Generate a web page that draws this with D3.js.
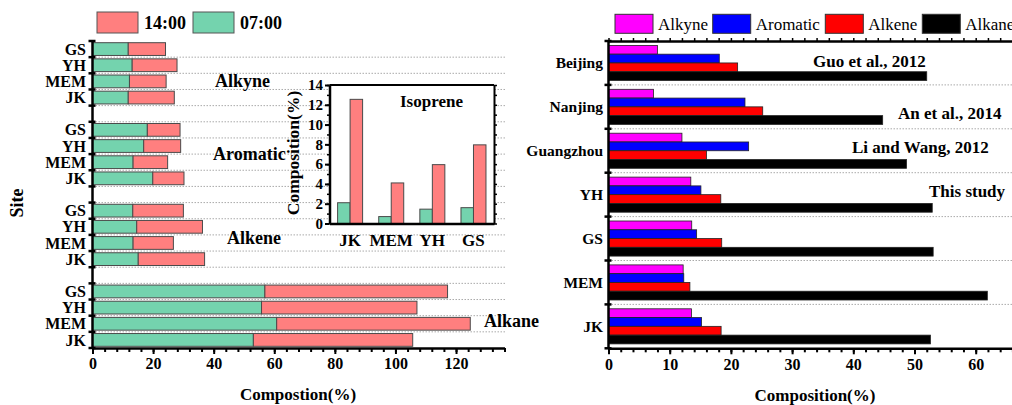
<!DOCTYPE html>
<html>
<head>
<meta charset="utf-8">
<script src="https://cdnjs.cloudflare.com/ajax/libs/d3/7.8.5/d3.min.js"></script>
<style>
  body { margin: 0; background: #fff; }
  svg { display: block; }
  svg text { font-family: 'Liberation Serif', 'DejaVu Serif', 'Times New Roman', Times, serif !important; fill: #000; }
  .axis path, .axis line { stroke: #000; }
  .axis text { font-weight: bold; }
</style>
</head>
<body>
<div class="chart-container"></div>
<script>
// site order as listed in the data (bottom to top on the chart)
let sites = ['JK', 'MEM', 'YH', 'GS']
let groups = ['Alkyne', 'Aromatic', 'Alkene', 'Alkane']

// 07:00 composition (%)
let alkyne07 = [11.8, 12.2, 13.1, 11.8]
let aromatic07 = [19.9, 13.4, 16.9, 18.1]
let alkene07 = [15.1, 13.4, 14.6, 13.3]
let alkane07 = [53.1, 60.8, 55.8, 56.9]

// 14:00 composition (%), stacked after 07:00
let alkyne14 = [15.2, 12.1, 14.8, 12.3]
let aromatic14 = [10.3, 11.4, 12.2, 10.8]
let alkene14 = [21.9, 13.3, 21.7, 16.7]
let alkane14 = [52.6, 63.9, 51.3, 60.3]

// inset: isoprene
let isoprene07 = [2.1, 0.7, 1.45, 1.6]
let isoprene14 = [12.55, 4.1, 5.95, 7.95]

// right panel: comparison with other cities
let cities = ['Beijing', 'Nanjing', 'Guangzhou', 'YH', 'GS', 'MEM', 'JK']
let classes = ['Alkyne', 'Aromatic', 'Alkene', 'Alkane']
let alkyneComp = [8.0, 7.35, 12.0, 13.45, 13.6, 12.2, 13.55]
let aromaticComp = [18.1, 22.3, 22.9, 15.1, 14.4, 12.3, 15.2]
let alkeneComp = [21.1, 25.2, 16.0, 18.35, 18.5, 13.3, 18.4]
let alkaneComp = [52.0, 44.8, 48.7, 52.9, 53.05, 61.9, 52.6]
let studyNotes = ['Guo et al., 2012', 'An et al., 2014', 'Li and Wang, 2012', 'This study']

let green = '#74d3ae'
let pink = '#ff7f7f'
let classColor = d3.scaleOrdinal()
  .domain(classes)
  .range(['#ff00ff', '#0000ff', '#ff0000', '#000000'])

let svg = d3.select('.chart-container')
  .append('svg')
  .attr('width', 1012)
  .attr('height', 405)

// ---------------- left panel ----------------
let am = [alkyne07, aromatic07, alkene07, alkane07]
let pm = [alkyne14, aromatic14, alkene14, alkane14]

let rows = []
let slots = []
groups.forEach((g, gi) => {
  if (gi > 0) slots.push('gap' + gi)
  sites.slice().reverse().forEach(s => {
    let i = sites.indexOf(s)
    slots.push(g + '-' + s)
    rows.push({ key: g + '-' + s, site: s, am: am[gi][i], pm: pm[gi][i] })
  })
})

let x = d3.scaleLinear().domain([0, 136]).range([92.5, 504.5])
let y = d3.scaleBand().domain(slots).range([41, 348]).padding(0)

let left = svg.append('g')

// dotted grid at slot boundaries
left.selectAll('.grid')
  .data(slots.slice(1))
  .enter()
  .append('line')
  .attr('x1', x(0)).attr('x2', 505)
  .attr('y1', d => y(d)).attr('y2', d => y(d))
  .attr('stroke', '#aaa')
  .attr('stroke-dasharray', '1.5,1.5')

let stack = d3.stack().keys(['am', 'pm'])
let layers = stack(rows)

left.selectAll('.layer')
  .data(layers)
  .enter()
  .append('g')
  .attr('fill', (d, i) => i === 0 ? green : pink)
  .selectAll('rect')
  .data(d => d)
  .enter()
  .append('rect')
  .attr('x', d => x(d[0]))
  .attr('width', d => x(d[1]) - x(d[0]))
  .attr('y', d => y(d.data.key) + 1.7)
  .attr('height', y.bandwidth() - 3.4)
  .attr('stroke', '#4a4a4a')
  .attr('stroke-width', 1)

// x axis
left.append('g')
  .attr('class', 'axis')
  .attr('transform', 'translate(0,348)')
  .call(d3.axisBottom(x).tickValues(d3.range(0, 137, 4)).tickSize(4).tickSizeOuter(0).tickFormat(''))
  .call(g => g.selectAll('line').attr('stroke-width', 2))
  .call(g => g.select('.domain').attr('stroke-width', 2.5))

left.append('g')
  .attr('class', 'axis')
  .attr('transform', 'translate(0,348)')
  .call(d3.axisBottom(x).tickValues(d3.range(0, 121, 20)).tickSize(6).tickPadding(4).tickSizeOuter(0))
  .call(g => g.select('.domain').remove())
  .call(g => g.selectAll('line').attr('stroke-width', 2))
  .call(g => g.selectAll('text').attr('font-size', 16))

// y axis line + crossing ticks
left.append('line')
  .attr('x1', x(0)).attr('x2', x(0))
  .attr('y1', 41).attr('y2', 348)
  .attr('stroke', '#000').attr('stroke-width', 2.5)

left.selectAll('.ytick')
  .data(slots.map(s => y(s)).concat([348]))
  .enter()
  .append('line')
  .attr('x1', x(0) - 4).attr('x2', x(0) + 3)
  .attr('y1', d => d).attr('y2', d => d)
  .attr('stroke', '#000').attr('stroke-width', 2.5)

left.selectAll('.ylabel')
  .data(rows)
  .enter()
  .append('text')
  .attr('x', 86)
  .attr('y', d => y(d.key) + y.bandwidth() / 2)
  .attr('dy', '0.35em')
  .attr('text-anchor', 'end')
  .attr('font-size', 16)
  .attr('font-weight', 'bold')
  .text(d => d.site)

let groupLabelPos = [[215, 87], [213, 160], [227, 244], [484, 327]]
left.selectAll('.glabel')
  .data(groups)
  .enter()
  .append('text')
  .attr('x', (d, i) => groupLabelPos[i][0])
  .attr('y', (d, i) => groupLabelPos[i][1])
  .attr('font-size', 18)
  .attr('font-weight', 'bold')
  .text(d => d)

left.append('text')
  .attr('transform', 'translate(23,203) rotate(-90)')
  .attr('text-anchor', 'middle')
  .attr('font-size', 18)
  .attr('font-weight', 'bold')
  .text('Site')

left.append('text')
  .attr('x', 298).attr('y', 400)
  .attr('text-anchor', 'middle')
  .attr('font-size', 17)
  .attr('font-weight', 'bold')
  .text('Compostion(%)')

// legend
let legendLeft = [{ label: '14:00', color: pink, x: 97 }, { label: '07:00', color: green, x: 193 }]
let lg = left.selectAll('.lg')
  .data(legendLeft)
  .enter()
  .append('g')
lg.append('rect')
  .attr('x', d => d.x).attr('y', 12)
  .attr('width', 41).attr('height', 21)
  .attr('fill', d => d.color)
  .attr('stroke', '#555')
lg.append('text')
  .attr('x', d => d.x + 47).attr('y', 29)
  .attr('font-size', 18)
  .attr('font-weight', 'bold')
  .text(d => d.label)

// ---------------- inset ----------------
let ix = d3.scaleBand().domain(sites).range([329.5, 494])
let ixs = d3.scaleBand().domain(['am', 'pm']).range([8.1, 33.1])
let iy = d3.scaleLinear().domain([0, 14]).range([223.5, 85])

let inset = svg.append('g')
inset.append('rect')
  .attr('x', 329.5).attr('y', 85)
  .attr('width', 494 - 329.5).attr('height', 223.5 - 85)
  .attr('fill', '#fff')

let isoRows = sites.map((s, i) => ({ site: s, am: isoprene07[i], pm: isoprene14[i] }))
inset.selectAll('.iso')
  .data(isoRows)
  .enter()
  .append('g')
  .attr('transform', d => `translate(${ix(d.site)},0)`)
  .selectAll('rect')
  .data(d => [{ k: 'am', v: d.am }, { k: 'pm', v: d.pm }])
  .enter()
  .append('rect')
  .attr('x', d => ixs(d.k))
  .attr('width', ixs.bandwidth())
  .attr('y', d => iy(d.v))
  .attr('height', d => iy(0) - iy(d.v))
  .attr('fill', d => d.k === 'am' ? green : pink)
  .attr('stroke', '#4a4a4a')

inset.append('g')
  .attr('class', 'axis')
  .attr('transform', 'translate(329.5,0)')
  .call(d3.axisLeft(iy).ticks(14).tickSize(2.5).tickFormat('').tickSizeOuter(0))
  .call(g => g.selectAll('line').attr('stroke-width', 1.5))
  .call(g => g.select('.domain').remove())
inset.append('g')
  .attr('class', 'axis')
  .attr('transform', 'translate(329.5,0)')
  .call(d3.axisLeft(iy).tickValues(d3.range(0, 15, 2)).tickSize(4.5).tickPadding(2).tickSizeOuter(0))
  .call(g => g.selectAll('line').attr('stroke-width', 2))
  .call(g => g.select('.domain').attr('stroke-width', 2.5))
  .call(g => g.selectAll('text').attr('font-size', 15))
inset.append('g')
  .attr('class', 'axis')
  .attr('transform', 'translate(494,0)')
  .call(d3.axisRight(iy).ticks(14).tickSize(3).tickFormat('').tickSizeOuter(0))
  .call(g => g.selectAll('line').attr('stroke-width', 1.5))
  .call(g => g.select('.domain').attr('stroke-width', 2))
inset.append('line')
  .attr('x1', 329.5).attr('x2', 494).attr('y1', 85).attr('y2', 85)
  .attr('stroke', '#000').attr('stroke-width', 2)
inset.append('g')
  .attr('class', 'axis')
  .attr('transform', 'translate(0,223.5)')
  .call(d3.axisBottom(ix).tickSize(0).tickPadding(7).tickSizeOuter(0))
  .call(g => g.select('.domain').attr('stroke-width', 2.5))
  .call(g => g.selectAll('text').attr('font-size', 17).attr('dy', '0.9em'))

inset.append('text')
  .attr('transform', 'translate(299,153) rotate(-90)')
  .attr('text-anchor', 'middle')
  .attr('font-size', 17.5)
  .attr('font-weight', 'bold')
  .text('Composition(%)')

inset.append('text')
  .attr('x', 400).attr('y', 107)
  .attr('font-size', 17)
  .attr('font-weight', 'bold')
  .text('Isoprene')

// ---------------- right panel ----------------
let compValues = [alkyneComp, aromaticComp, alkeneComp, alkaneComp]
let rx = d3.scaleLinear().domain([0, 70]).range([608.5, 608.5 + 70 * 6.12])
let ry = d3.scaleBand().domain(cities).range([41, 348.3])
let rys = d3.scaleBand().domain(classes).range([4.4, ry.bandwidth() - 4.4])

let right = svg.append('g')

right.selectAll('.rgrid')
  .data(cities.slice(1))
  .enter()
  .append('line')
  .attr('x1', rx(0)).attr('x2', 1012)
  .attr('y1', d => ry(d)).attr('y2', d => ry(d))
  .attr('stroke', '#aaa')
  .attr('stroke-dasharray', '1.5,1.5')

right.selectAll('.city')
  .data(cities)
  .enter()
  .append('g')
  .attr('transform', d => `translate(0,${ry(d)})`)
  .selectAll('rect')
  .data((d, i) => classes.map((c, ci) => ({ cls: c, v: compValues[ci][i] })))
  .enter()
  .append('rect')
  .attr('x', rx(0))
  .attr('y', d => rys(d.cls))
  .attr('width', d => rx(d.v) - rx(0))
  .attr('height', rys.bandwidth())
  .attr('fill', d => classColor(d.cls))
  .attr('stroke', '#222')
  .attr('stroke-width', 0.8)

right.append('g')
  .attr('class', 'axis')
  .attr('transform', 'translate(0,348.3)')
  .call(d3.axisBottom(rx).tickValues(d3.range(0, 71, 2)).tickSize(4).tickFormat('').tickSizeOuter(0))
  .call(g => g.selectAll('line').attr('stroke-width', 2))
  .call(g => g.select('.domain').attr('stroke-width', 2.5))
right.append('g')
  .attr('class', 'axis')
  .attr('transform', 'translate(0,348.3)')
  .call(d3.axisBottom(rx).tickValues(d3.range(0, 61, 10)).tickSize(6).tickPadding(4).tickSizeOuter(0))
  .call(g => g.select('.domain').remove())
  .call(g => g.selectAll('line').attr('stroke-width', 2))
  .call(g => g.selectAll('text').attr('font-size', 16))
right.append('g')
  .attr('class', 'axis')
  .attr('transform', 'translate(0,41)')
  .call(d3.axisTop(rx).tickValues(d3.range(0, 71, 2)).tickSize(3).tickFormat('').tickSizeOuter(0))
  .call(g => g.selectAll('line').attr('stroke-width', 1.5))
  .call(g => g.select('.domain').attr('stroke-width', 2.5))

right.append('line')
  .attr('x1', rx(0)).attr('x2', rx(0))
  .attr('y1', 41).attr('y2', 348.3)
  .attr('stroke', '#000').attr('stroke-width', 2.5)
right.selectAll('.rtick')
  .data(cities.map(c => ry(c)).concat([348.3]))
  .enter()
  .append('line')
  .attr('x1', rx(0) - 4).attr('x2', rx(0) + 3)
  .attr('y1', d => d).attr('y2', d => d)
  .attr('stroke', '#000').attr('stroke-width', 2.5)

right.selectAll('.rlabel')
  .data(cities)
  .enter()
  .append('text')
  .attr('x', 603)
  .attr('y', d => ry(d) + ry.bandwidth() / 2)
  .attr('dy', '0.35em')
  .attr('text-anchor', 'end')
  .attr('font-size', 15.5)
  .attr('font-weight', 'bold')
  .text(d => d)

let notePos = [[813, 67], [898, 119], [852, 153], [929, 197]]
right.selectAll('.note')
  .data(studyNotes)
  .enter()
  .append('text')
  .attr('x', (d, i) => notePos[i][0])
  .attr('y', (d, i) => notePos[i][1])
  .attr('font-size', 17)
  .attr('font-weight', 'bold')
  .text(d => d)

right.append('text')
  .attr('x', 815).attr('y', 401)
  .attr('text-anchor', 'middle')
  .attr('font-size', 17)
  .attr('font-weight', 'bold')
  .text('Composition(%)')

let legendRightX = [615, 712.7, 825.3, 922.3]
let rl = right.selectAll('.rl')
  .data(classes)
  .enter()
  .append('g')
rl.append('rect')
  .attr('x', (d, i) => legendRightX[i]).attr('y', 14.3)
  .attr('width', 38).attr('height', 19)
  .attr('fill', d => classColor(d))
  .attr('stroke', '#333')
rl.append('text')
  .attr('x', (d, i) => legendRightX[i] + 43).attr('y', 29.5)
  .attr('font-size', 17)
  .text(d => d)
</script>
</body>
</html>
